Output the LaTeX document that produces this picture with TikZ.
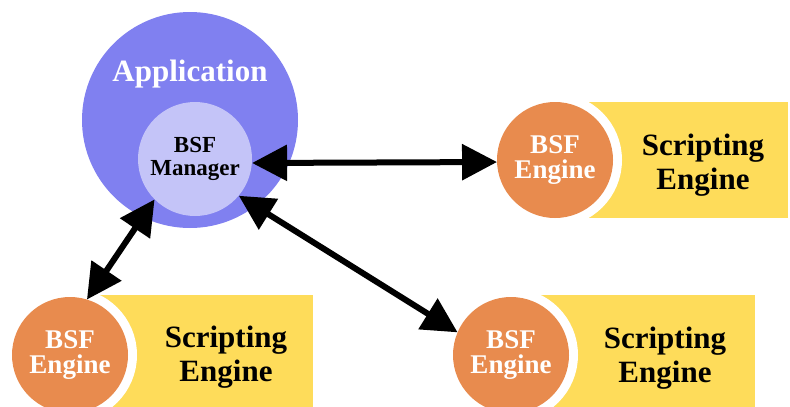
\documentclass[tikz,border=0pt]{standalone}
\usepackage{fontspec}
\setmainfont{Liberation Serif}
\usepackage{tikz}
\usetikzlibrary{arrows.meta,positioning}
\definecolor{appblue}{RGB}{128,128,240}
\definecolor{mgrblue}{RGB}{196,196,248}
\definecolor{engorange}{RGB}{232,139,78}
\definecolor{scriptyellow}{RGB}{254,220,90}
\tikzset{
	appcircle/.style={circle, fill=appblue, minimum size=216pt, inner sep=0pt},
	mgrcircle/.style={circle, fill=mgrblue, minimum size=114pt, inner sep=0pt,
		align=center, font=\fontsize{23}{23}\selectfont\bfseries},
	engcircle/.style={circle, fill=engorange, preaction={draw=white, line width=18pt},
		minimum size=116pt, inner sep=0pt, outer sep=0pt,
		align=center, text=white, font=\fontsize{27}{25}\selectfont\bfseries},
	scripttext/.style={align=center, inner sep=0pt, font=\fontsize{31}{34}\selectfont\bfseries},
	biarrow/.style={{Triangle[length=35pt,width=35pt]}-{Triangle[length=35pt,width=35pt]}, line width=6pt}
}

\begin{document}
\begin{tikzpicture}[x=1pt, y=-1pt]
	\useasboundingbox (0,0) rectangle (790,407);
	
	%% -- Application with the manager inside
	\node[appcircle] (app) at (190,120) {};
	\node[text=white, inner sep=0pt, font=\fontsize{31}{30}\selectfont\bfseries]
	(applabel) at (190,74) {Application};
	\node[mgrcircle] (mgr) at (195,159) {BSF\\Manager};
	
	%% -- Scripting engine backgrounds
	\fill[scriptyellow] (555,102) rectangle (788,218);
	\fill[scriptyellow] (70,295) rectangle (313,410);
	\fill[scriptyellow] (511,295) rectangle (755,410);
	
	%% -- BSF engines (white ring cuts into the yellow)
	\node[engcircle] (eng1) at (555,160) {BSF\\Engine};
	\node[engcircle] (eng2) at (70,355) {BSF\\Engine};
	\node[engcircle] (eng3) at (511,355) {BSF\\Engine};
	
	\node[scripttext] (se1) at (703,165) {Scripting\\Engine};
	\node[scripttext] (se2) at (226,357) {Scripting\\Engine};
	\node[scripttext] (se3) at (665,358) {Scripting\\Engine};
	
	%% -- Manager <-> engines
	\draw[biarrow] (mgr.-4) -- (eng1.182);
	\draw[biarrow] (mgr.225) -- (eng2.73);
	\draw[biarrow] (mgr.-40) -- (eng3.157);
	
\end{tikzpicture}
\end{document}
